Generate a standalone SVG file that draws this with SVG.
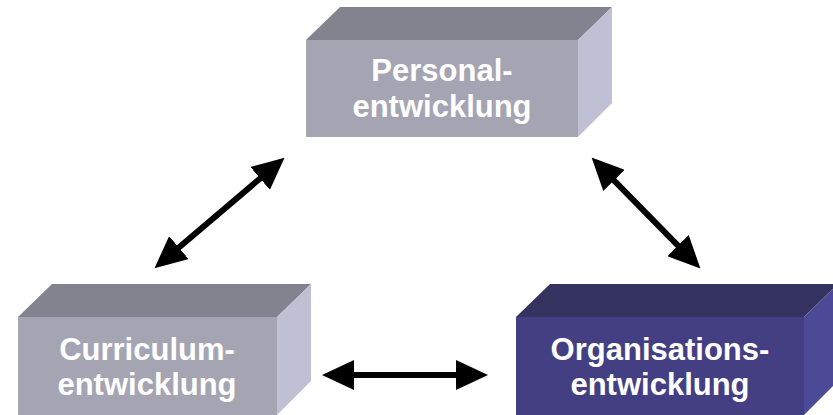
<svg xmlns="http://www.w3.org/2000/svg" width="833" height="415" viewBox="0 0 833 415">
<style>
.lbl{font-family:"Liberation Sans",Arial,sans-serif;font-weight:bold;font-size:31px;fill:#ffffff;text-anchor:middle}
.gt{fill:#838390}.gf{fill:#a4a4b3}.gr{fill:#bfc0d4}
.bt{fill:#34335f}.bf{fill:#433f82}.br{fill:#4c4a96}
.con{stroke:#000;stroke-width:6;fill:none;marker-start:url(#ah);marker-end:url(#ah)}
</style>
<defs>
<marker id="ah" markerUnits="userSpaceOnUse" markerWidth="32" markerHeight="30" refX="20" refY="15" orient="auto-start-reverse" viewBox="0 0 32 30">
<path d="M0,0 L32,15 L0,30 z" fill="#000"/>
</marker>
</defs>
<g id="personal">
<polygon class="gt" points="306,40 340,7 612,7 578,40"/>
<polygon class="gr" points="578,40 612,7 612,103 578,137"/>
<rect class="gf" x="306" y="40" width="272" height="97"/>
<text class="lbl" x="442" y="81">Personal-</text>
<text class="lbl" x="442" y="117">entwicklung</text>
</g>
<g id="curriculum">
<polygon class="gt" points="18,317 52,284 311,284 277,317"/>
<polygon class="gr" points="277,317 311,284 311,381 277,415"/>
<rect class="gf" x="18" y="317" width="259" height="98"/>
<text class="lbl" x="147" y="360">Curriculum-</text>
<text class="lbl" x="147" y="395">entwicklung</text>
</g>
<g id="organisation">
<polygon class="bt" points="516,317 550,284 838,284 804,317"/>
<polygon class="br" points="804,317 838,284 838,381 804,415"/>
<rect class="bf" x="516" y="317" width="288" height="98"/>
<text class="lbl" x="660" y="360">Organisations-</text>
<text class="lbl" x="660" y="395">entwicklung</text>
</g>
<g id="connectors">
<line class="con" x1="163.6" y1="260.5" x2="275.4" y2="165.5"/>
<line class="con" x1="600" y1="166.1" x2="692" y2="259.9"/>
<line class="con" x1="334" y1="375" x2="476" y2="375"/>
</g>
</svg>
